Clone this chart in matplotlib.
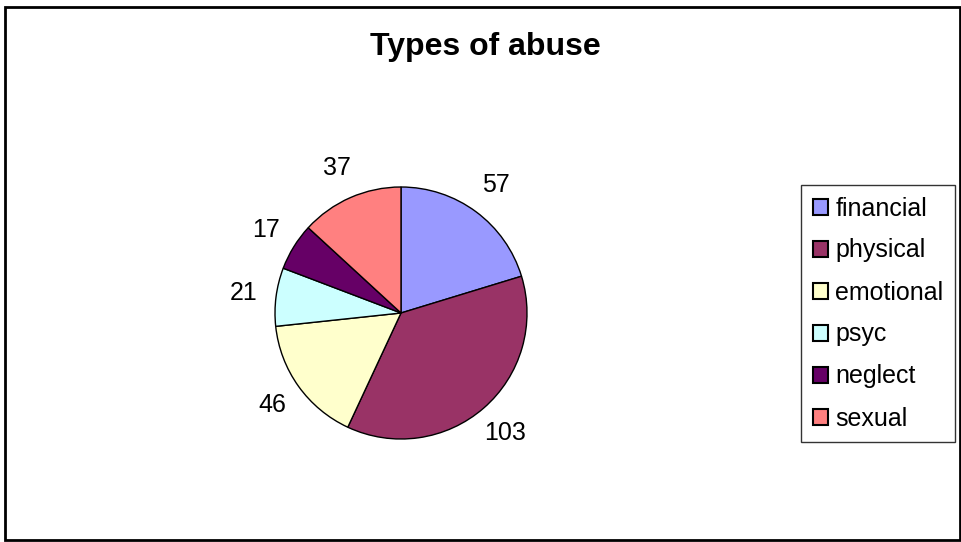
import matplotlib
matplotlib.use("Agg")
import matplotlib.pyplot as plt
from matplotlib.patches import Rectangle

plt.rcParams['font.family'] = ['Liberation Sans', 'DejaVu Sans']

categories = ["financial", "physical", "emotional", "psyc", "neglect", "sexual"]
values = [57, 103, 46, 21, 17, 37]
colors = ["#9999FF", "#993366", "#FFFFCC", "#CCFFFF", "#660066", "#FF8080"]
title = "Types of abuse"

W, H = 962, 542
fig = plt.figure(figsize=(W / 100, H / 100), dpi=100)

# outer border
fig.patches.append(Rectangle((5 / W, 2 / H), 955 / W, 533 / H, transform=fig.transFigure,
                             fill=False, edgecolor="black", linewidth=2))

cx, cy, r = 401, H - 313, 126
ax = fig.add_axes([(cx - r) / W, (cy - r) / H, 2 * r / W, 2 * r / H])
wedges, texts = ax.pie(values, colors=colors, startangle=90, counterclock=False,
                       labels=[str(v) for v in values], labeldistance=1.26,
                       wedgeprops=dict(edgecolor="black", linewidth=1),
                       textprops=dict(ha="center", va="center", fontsize=18))
ax.set_xlim(-1, 1)
ax.set_ylim(-1, 1)
ax.set_aspect("equal")
ax.axis("off")

fig.text(485 / W, 1 - 47 / H, title, ha="center", va="center", fontsize=23, fontweight="bold")

leg = fig.legend(wedges, categories, loc="center",
                 bbox_to_anchor=(878 / W, 1 - 313.5 / H),
                 fontsize=18, frameon=True, fancybox=False, edgecolor="black",
                 handlelength=0.6, handleheight=0.6, handletextpad=0.3,
                 labelspacing=0.72, borderpad=0.45, borderaxespad=0)
leg.get_frame().set_linewidth(1)
for h in leg.legend_handles:
    h.set_edgecolor("black")
    h.set_linewidth(1.5)

fig.savefig("out.png", dpi=100)
